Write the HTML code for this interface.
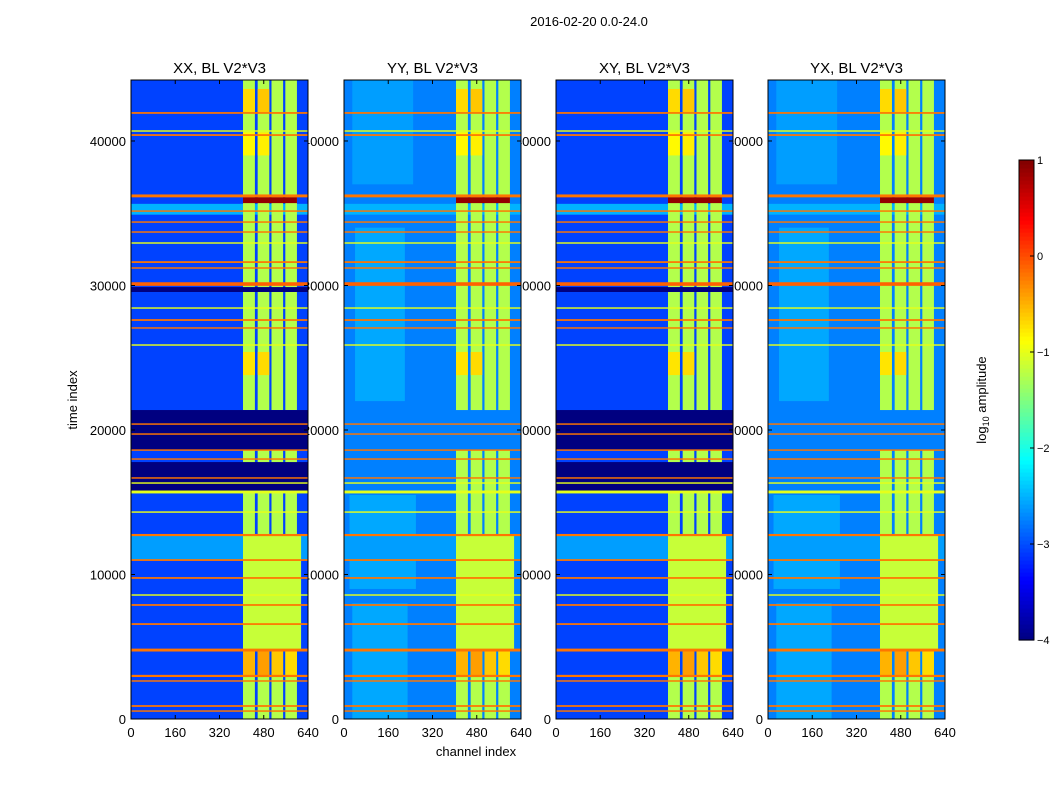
<!DOCTYPE html>
<html><head><meta charset="utf-8"><style>
body{margin:0;background:#fff;width:1050px;height:800px;overflow:hidden;font-family:"Liberation Sans",sans-serif}
svg text{font-family:"Liberation Sans",sans-serif}
</style></head><body>
<svg id="fig" width="1050" height="800" xmlns="http://www.w3.org/2000/svg">
<text x="589" y="26" font-size="13" text-anchor="middle">2016-02-20 0.0-24.0</text>
<g id="labels"></g>
<g id="panels"></g>
<text x="476" y="756" font-size="13" text-anchor="middle">channel index</text>
<text x="77" y="400" font-size="13" text-anchor="middle" transform="rotate(-90 77 400)">time index</text>
<g id="cbar"></g>
<text x="986" y="400" font-size="13" text-anchor="middle" transform="rotate(-90 986 400)">log<tspan font-size="9" dy="3">10</tspan><tspan dy="-3"> amplitude</tspan></text>
</svg>
<script>
// ---- data ----
const panelTitles = ["XX, BL V2*V3","YY, BL V2*V3","XY, BL V2*V3","YX, BL V2*V3"];
const panelBg = [-3.05, -2.75, -3.05, -2.75];
const panelNavy = [true, false, true, false];
const panelCyan = [false, true, false, true];
const xTicks = [0,160,320,480,640];
const yTicks = [0,10000,20000,30000,40000];
const cbTicks = [1,0,-1,-2,-3,-4];
// bright channel bands [chStart, chEnd]
const bandCh0 = [405, 458, 508, 558];
const bandCh1 = [448, 500, 550, 600];
const bandVal = -1.25;
// time segments where bands are active [t0,t1]
const bandT0 = [21380, 0, 15700];
const bandT1 = [44220, 15700, 18600];
// merged lower band region
const mergedCh = [405, 615];
const mergedT = [4770, 12730];
const mergedVal = -1.15;
// cyan patches (YY, YX): ch0, ch1, t0, t1, value
const cyanCh0 = [30, 20, 40, 30];
const cyanCh1 = [230, 260, 220, 250];
const cyanT0 = [0, 9000, 22000, 37000];
const cyanT1 = [8000, 15500, 34000, 44220];
const cyanV = [-2.55, -2.55, -2.55, -2.6];
// lighter rows across all panels: t0, t1, value
const lightT0 = [11000, 34900];
const lightT1 = [12700, 35650];
const lightV = [-2.6, -2.5];
// hot (orange) patches in bands: ch0, ch1, t0, t1, value
const hotCh0 = [405, 458, 405, 458, 405, 458, 405, 458, 508, 558];
const hotCh1 = [448, 500, 448, 500, 448, 500, 448, 500, 550, 600];
const hotT0 = [42000, 42000, 39000, 39000, 23800, 23800, 2900, 2900, 2900, 2900];
const hotT1 = [43600, 43600, 40600, 40600, 25400, 25400, 4700, 4700, 4700, 4700];
const hotV = [-0.7, -0.6, -0.85, -0.8, -0.75, -0.7, -0.5, -0.4, -0.6, -0.7];
// navy dropout blocks (XX, XY) [t0,t1]
const navyT0 = [18610, 15710, 29550];
const navyT1 = [21380, 17780, 29890];
// full-width stripes: time, value, thickness
const stripeT = [41940,40690,40410,36200,35150,34390,33700,32940,31620,31210,30100,28440,27610,27060,25880,20410,19720,18610,17990,16680,16330,15710,14320,12730,11000,9760,8580,7890,6570,4770,2980,2630,900,550];
const stripeV = [-0.2,-1,-0.2,-0.2,-0.2,-0.2,-0.2,-1,-0.2,-0.2,-0.1,-1,-0.2,-0.2,-1,-0.2,-0.2,-0.2,-0.2,-0.2,-1,-1,-1,-0.2,-0.2,-0.2,-1,-0.2,-0.2,-0.2,-0.2,-0.2,-0.2,-0.2];
const stripeH = [120,100,120,200,100,100,100,100,120,100,250,100,120,100,100,100,100,100,100,100,100,200,100,150,120,120,100,120,120,200,150,100,120,100];
// dark red saturated block
const redT = [35700, 36100];
const redV = 0.9;

// ---- scales ----
const PX = [131,344,556,768], PW = 177, PTOP = 80, PBOT = 719, TMAX = 44220;
function xs(p, ch){ return PX[p] + ch/640*PW; }
function ys(t){ return PBOT - t/TMAX*(PBOT-PTOP); }
function jet(v){
  const f = Math.max(0, Math.min(1, (v+4)/5));
  const c = x => Math.round(255*Math.max(0, Math.min(1, 1.5-Math.abs(4*f-x))));
  return `rgb(${c(3)},${c(2)},${c(1)})`;
}
const NS = "http://www.w3.org/2000/svg";
function mk(tag, attrs, parent){
  const e = document.createElementNS(NS, tag);
  for (const k in attrs) e.setAttribute(k, attrs[k]);
  parent.appendChild(e); return e;
}
function rect(g, p, ch0, ch1, t0, t1, v, name){
  const y1 = ys(t1), y0 = ys(t0);
  const r = mk("rect", {x: xs(p,ch0), y: y1, width: xs(p,ch1)-xs(p,ch0), height: Math.max(1, y0-y1), fill: jet(v)}, g);
  
  
  return r;
}
const panelsG = document.getElementById("panels");
const labelsG = document.getElementById("labels");
for (let p = 0; p < 4; p++){
  const g = mk("g", {}, panelsG);
  
  
  rect(g, p, 0, 640, 0, TMAX, panelBg[p], 'heatmap-background');
  if (panelCyan[p])
    for (let c = 0; c < cyanCh0.length; c++)
      rect(g, p, cyanCh0[c], cyanCh1[c], cyanT0[c], cyanT1[c], cyanV[c], 'heatmap-cyan-patch');
  for (let l = 0; l < lightT0.length; l++)
    rect(g, p, 0, 640, lightT0[l], lightT1[l], lightV[l], 'heatmap-light-row');
  for (let s = 0; s < bandT0.length; s++)
    for (let b = 0; b < bandCh0.length; b++)
      rect(g, p, bandCh0[b], bandCh1[b], bandT0[s], bandT1[s], bandVal, 'heatmap-band');
  rect(g, p, mergedCh[0], mergedCh[1], mergedT[0], mergedT[1], mergedVal, 'heatmap-merged-band');
  for (let h = 0; h < hotCh0.length; h++)
    rect(g, p, hotCh0[h], hotCh1[h], hotT0[h], hotT1[h], hotV[h], 'heatmap-hot-patch');
  if (panelNavy[p])
    for (let n = 0; n < navyT0.length; n++)
      rect(g, p, 0, 640, navyT0[n], navyT1[n], -4, 'heatmap-dropout');
  for (let s = 0; s < stripeT.length; s++)
    rect(g, p, 0, 640, stripeT[s]-stripeH[s]/2, stripeT[s]+stripeH[s]/2, stripeV[s], 'heatmap-stripe');
  rect(g, p, bandCh0[0], bandCh1[3], redT[0], redT[1], redV, 'heatmap-saturated');
  const fr = mk("rect", {x: PX[p], y: PTOP, width: PW, height: PBOT-PTOP, fill: "none", stroke: "#000", "stroke-width": 1}, g);
  
  
  const tt = mk("text", {x: PX[p]+PW/2, y: 73, "font-size": 15, "text-anchor": "middle"}, g);
  tt.textContent = panelTitles[p];
  
  
  for (const v of xTicks){
    const x = xs(p, v);
    mk("line", {x1: x, x2: x, y1: PBOT, y2: PBOT-4, stroke: "#000"}, g);
    mk("line", {x1: x, x2: x, y1: PTOP, y2: PTOP+4, stroke: "#000"}, g);
    const t = mk("text", {x: x, y: 737, "font-size": 13, "text-anchor": "middle"}, labelsG);
    t.textContent = v;
    
    
  }
  for (const v of yTicks){
    const y = ys(v);
    mk("line", {x1: PX[p], x2: PX[p]+4, y1: y, y2: y, stroke: "#000"}, g);
    mk("line", {x1: PX[p]+PW, x2: PX[p]+PW-4, y1: y, y2: y, stroke: "#000"}, g);
    const t = mk("text", {x: PX[p]-5, y: y+5, "font-size": 13, "text-anchor": "end"}, labelsG);
    t.textContent = v;
    
    
  }
}
// colorbar
const cb = document.getElementById("cbar");
const CBX = 1019, CBW = 15, CBT = 160, CBB = 640;
const cy = v => CBB - (v+4)/5*(CBB-CBT);
for (let i = 0; i < 120; i++){
  const v0 = -4 + i*5/120;
  const r = mk("rect", {x: CBX, y: cy(v0+5/120), width: CBW, height: (CBB-CBT)/120+0.6, fill: jet(v0+2.5/120)}, cb);
  
  
}
mk("rect", {x: CBX, y: CBT, width: CBW, height: CBB-CBT, fill: "none", stroke: "#000"}, cb);
for (const v of cbTicks){
  const y = cy(v);
  mk("line", {x1: CBX+CBW-4, x2: CBX+CBW, y1: y, y2: y, stroke: "#000"}, cb);
  const t = mk("text", {x: CBX+CBW+3, y: y+4, "font-size": 11}, cb);
  t.textContent = v < 0 ? "\u2212" + (-v) : v;
  
  
}
</script>
</body></html>
